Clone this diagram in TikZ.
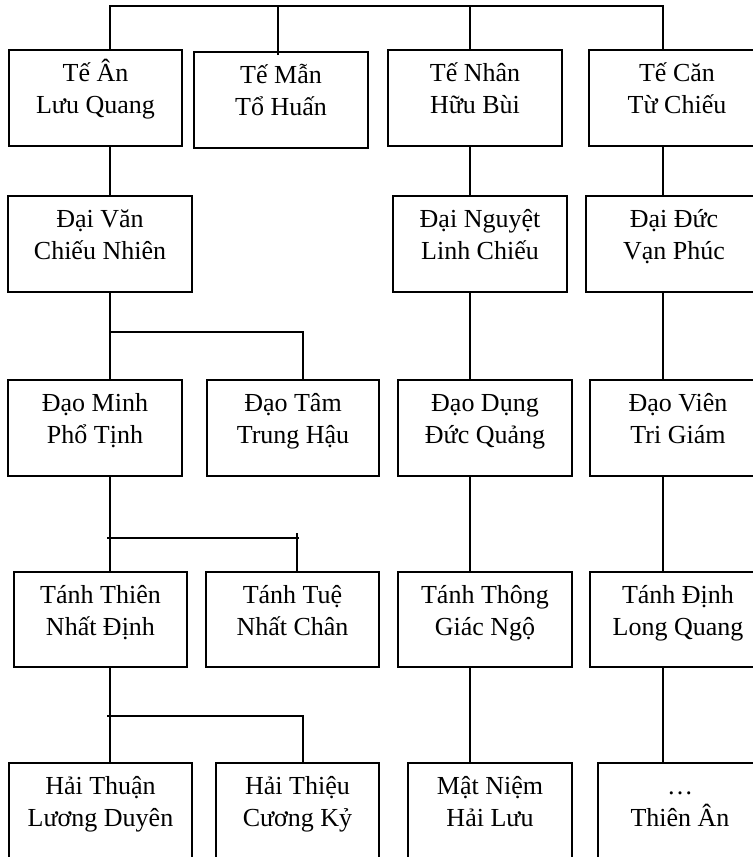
\documentclass[tikz,border=0pt]{standalone}
\usepackage{fontspec}
\setmainfont{Liberation Serif}

% One family member: a framed box plus its two-line name set near the top.
% #1 name, #2 left, #3 top, #4 right, #5 bottom, #6 text
\newcommand\fambox[6]{%
  \node[famrect, minimum width={(#4-#2)*1bp}, minimum height={(#5-#3)*1bp}]
    (#1) at ({(#2+#4)/2},{(#3+#5)/2}) {};
  \node[famtext] (#1-t) at ([yshift=-31bp]#1.north)
    {\begin{tabular}[t]{@{}c@{}}#6\end{tabular}};%
}

\begin{document}
\begin{tikzpicture}[x=1bp, y=-1bp,
  famrect/.style={draw=black, line width=1.9bp, inner sep=0pt, outer sep=0pt},
  famtext/.style={anchor=base, inner sep=0pt,
    font=\fontsize{26bp}{32.5bp}\selectfont},
  link/.style={draw=black, line width=1.9bp}]

\useasboundingbox (0,0) rectangle (753,857);
\clip (0,0) rectangle (753,857);

% Generation Tế
\fambox{A1}{9}{50}{182}{146}{Tế Ân\\Lưu Quang}
\fambox{A2}{194}{52}{368}{148}{Tế Mẫn\\Tổ Huấn}
\fambox{A3}{388}{50}{562}{146}{Tế Nhân\\Hữu Bùi}
\fambox{A4}{589}{50}{765}{146}{Tế Căn\\Từ Chiếu}

% Generation Đại
\fambox{B1}{8}{196}{192}{292}{Đại Văn\\Chiếu Nhiên}
\fambox{B3}{393}{196}{567}{292}{Đại Nguyệt\\Linh Chiếu}
\fambox{B4}{586}{196}{762}{292}{Đại Đức\\Vạn Phúc}

% Generation Đạo
\fambox{C1}{8}{380}{182}{476}{Đạo Minh\\Phổ Tịnh}
\fambox{C2}{207}{380}{379}{476}{Đạo Tâm\\Trung Hậu}
\fambox{C3}{398}{380}{572}{476}{Đạo Dụng\\Đức Quảng}
\fambox{C4}{590}{380}{766}{476}{Đạo Viên\\Tri Giám}

% Generation Tánh
\fambox{D1}{14}{572}{187}{667}{Tánh Thiên\\Nhất Định}
\fambox{D2}{206}{572}{379}{667}{Tánh Tuệ\\Nhất Chân}
\fambox{D3}{398}{572}{572}{667}{Tánh Thông\\Giác Ngộ}
\fambox{D4}{590}{572}{766}{667}{Tánh Định\\Long Quang}

% Generation Hải
\fambox{E1}{9}{763}{192}{860}{Hải Thuận\\Lương Duyên}
\fambox{E2}{216}{763}{379}{860}{Hải Thiệu\\Cương Kỷ}
\fambox{E3}{408}{763}{572}{860}{Mật Niệm\\Hải Lưu}
\fambox{E4}{598}{763}{762}{860}{…\\Thiên Ân}

% Trunk positions and forks
\coordinate (bus1) at (110,6);
\coordinate (bus2) at (278,6);
\coordinate (bus3) at (470,6);
\coordinate (bus4) at (663,6);
\coordinate (fork1) at (110,332);
\coordinate (fork1r) at (303,332);
\coordinate (fork2l) at (107,538);
\coordinate (fork2r) at (299,538);
\coordinate (drop2) at (297,533);
\coordinate (fork3l) at (107,716);
\coordinate (fork3r) at (304,716);
\coordinate (drop3) at (303,716);

% Top bar joining the first generation
\draw[link] (bus1 |- A1.north) -- (bus1) -- (bus4) -- (bus4 |- A4.north);
\draw[link] (bus2) -- ([yshift=-3bp]bus2 |- A2.north);
\draw[link] (bus3) -- (bus3 |- A3.north);

% Left lineage
\draw[link] (bus1 |- A1.south) -- (bus1 |- B1.north);
\draw[link] (bus1 |- B1.south) -- (bus1 |- C1.north);
\draw[link] (fork1) -- (fork1r) -- (fork1r |- C2.north);
\draw[link] (bus1 |- C1.south) -- (bus1 |- D1.north);
\draw[link] (fork2l) -- (fork2r);
\draw[link] (drop2) -- (drop2 |- D2.north);
\draw[link] (bus1 |- D1.south) -- (bus1 |- E1.north);
\draw[link] (fork3l) -- (fork3r);
\draw[link] (drop3) -- (drop3 |- E2.north);

% Third lineage
\draw[link] (bus3 |- A3.south) -- (bus3 |- B3.north);
\draw[link] (bus3 |- B3.south) -- (bus3 |- C3.north);
\draw[link] (bus3 |- C3.south) -- (bus3 |- D3.north);
\draw[link] (bus3 |- D3.south) -- (bus3 |- E3.north);

% Fourth lineage
\draw[link] (bus4 |- A4.south) -- (bus4 |- B4.north);
\draw[link] (bus4 |- B4.south) -- (bus4 |- C4.north);
\draw[link] (bus4 |- C4.south) -- (bus4 |- D4.north);
\draw[link] (bus4 |- D4.south) -- (bus4 |- E4.north);

\end{tikzpicture}
\end{document}
